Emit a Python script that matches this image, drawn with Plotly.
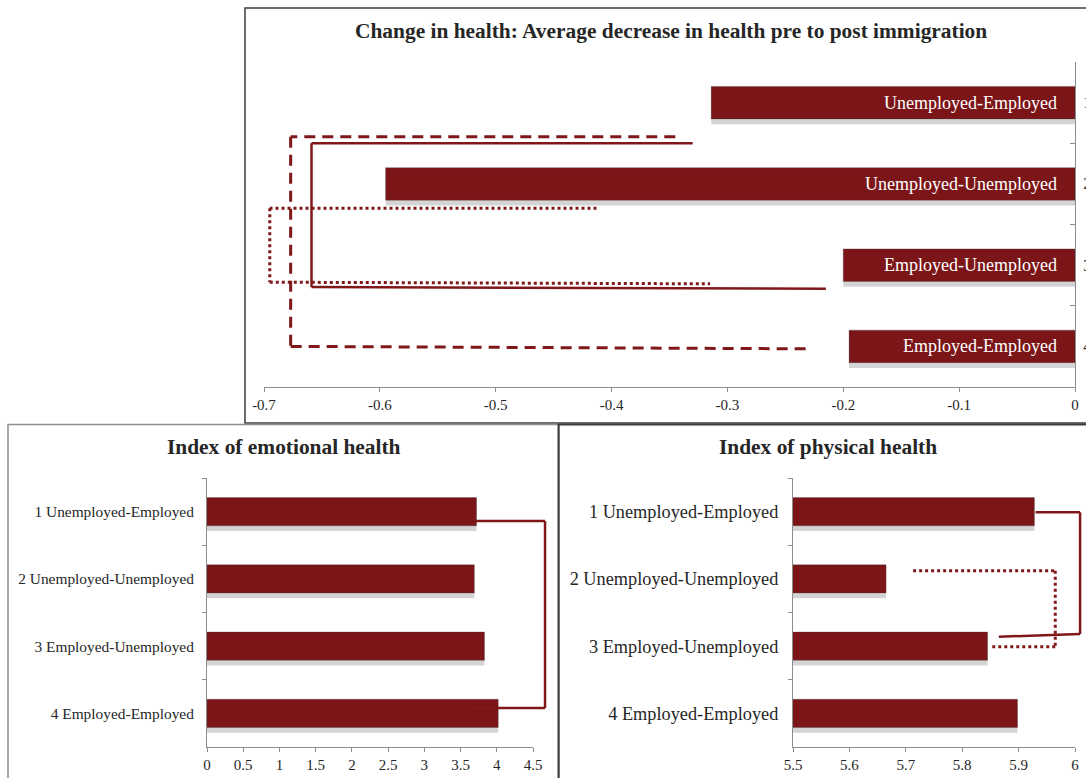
import plotly.graph_objects as go

W, H = 1086, 778

# ---------------- data ----------------
change_labels = ["Unemployed-Employed", "Unemployed-Unemployed", "Employed-Unemployed", "Employed-Employed"]
change_values = [-0.314, -0.595, -0.200, -0.195]
group_numbers = ["1", "2", "3", "4"]
change_ticks = [-0.7, -0.6, -0.5, -0.4, -0.3, -0.2, -0.1, 0]
change_ticktext = ["-0.7", "-0.6", "-0.5", "-0.4", "-0.3", "-0.2", "-0.1", "0"]

index_labels = ["1 Unemployed-Employed", "2 Unemployed-Unemployed", "3 Employed-Unemployed", "4 Employed-Employed"]
emotional_values = [3.72, 3.69, 3.83, 4.02]
physical_values = [5.928, 5.665, 5.845, 5.898]

# significance brackets: (x, category-index) vertices, dash style
change_brackets = [
    ([(-0.345, 0.42), (-0.677, 0.42), (-0.677, 3.00), (-0.232, 3.03)], "dash"),
    ([(-0.330, 0.50), (-0.659, 0.50), (-0.659, 2.27), (-0.215, 2.29)], "solid"),
    ([(-0.413, 1.30), (-0.695, 1.30), (-0.695, 2.21), (-0.315, 2.23)], "dot"),
]
emotional_brackets = [
    ([(3.70, 0.14), (4.666, 0.14), (4.666, 2.92), (3.64, 2.92)], "solid"),
]
physical_brackets = [
    ([(5.93, 0.01), (6.009, 0.01), (6.009, 1.82), (5.865, 1.86)], "solid"),
    ([(5.713, 0.88), (5.965, 0.88), (5.965, 2.01), (5.851, 2.01)], "dot"),
]

BAR = "#7C1518"
SHADOW = "rgba(0,0,0,0.17)"
LINE = "#801719"
FONT = "Liberation Serif"
TXT = "#262626"
AX = "#8c8c8c"

# pixel layout of the three plot areas
TOP_X = (264, 1075); TOP_Y = (62, 387)
EMO_X = (207, 533); BOT_Y = (478, 747)
PHY_X = (793, 1075)

def px(x): return x / W
def py(y): return 1 - y / H

fig = go.Figure()

def add_bars(cats, vals, w, shift, xa, ya):
    # soft drop shadow (same data, drawn slightly lower) then the bar itself
    fig.add_trace(go.Bar(y=cats, x=vals, orientation="h", width=w + shift, offset=-w / 2 + shift * 0.3,
                         marker=dict(color=SHADOW, line=dict(width=0)), xaxis=xa, yaxis=ya,
                         hoverinfo="skip"))
    fig.add_trace(go.Bar(y=cats, x=vals, orientation="h", width=w, offset=-w / 2,
                         marker=dict(color=BAR, line=dict(color="rgba(60,60,60,0.3)", width=1)),
                         xaxis=xa, yaxis=ya))

add_bars(change_labels, change_values, 0.4, 0.05, "x", "y")
add_bars(index_labels, emotional_values, 0.42, 0.06, "x2", "y2")
add_bars(index_labels, physical_values, 0.42, 0.06, "x3", "y3")

tickfont = dict(family=FONT, size=15, color=TXT)

fig.update_layout(
    width=W, height=H, margin=dict(l=0, r=0, t=0, b=0, autoexpand=False),
    paper_bgcolor="white", plot_bgcolor="white", showlegend=False, barmode="overlay",
    font=dict(family=FONT, color=TXT),
    xaxis=dict(domain=[px(TOP_X[0]), px(TOP_X[1])], anchor="y", range=[-0.7, 0],
               tickmode="array", tickvals=change_ticks, ticktext=change_ticktext,
               showgrid=False, zeroline=False, showline=True, linecolor=AX,
               ticks="outside", ticklen=4, tickcolor=AX, tickfont=tickfont),
    yaxis=dict(domain=[py(TOP_Y[1]), py(TOP_Y[0])], anchor="x", type="category",
               range=[3.5, -0.5], side="right", showline=True, linecolor=AX, showgrid=False,
               ticks="inside", tickson="boundaries", ticklen=5, tickcolor=AX,
               tickmode="array", tickvals=change_labels, ticktext=group_numbers,
               ticklabelstandoff=4, automargin=False,
               tickfont=dict(family=FONT, size=16, color=TXT)),
    xaxis2=dict(domain=[px(EMO_X[0]), px(EMO_X[1])], anchor="y2", range=[0, 4.5], dtick=0.5,
                showgrid=False, zeroline=False, showline=True, linecolor=AX,
                ticks="outside", ticklen=4, tickcolor=AX, tickfont=tickfont),
    yaxis2=dict(domain=[py(BOT_Y[1]), py(BOT_Y[0])], anchor="x2", type="category",
                range=[3.5, -0.5], showline=True, linecolor=AX, showgrid=False,
                ticks="outside", tickson="boundaries", ticklen=4, tickcolor=AX,
                ticklabelstandoff=9, tickfont=dict(family=FONT, size=15.4, color=TXT)),
    xaxis3=dict(domain=[px(PHY_X[0]), px(PHY_X[1])], anchor="y3", range=[5.5, 6], dtick=0.1,
                showgrid=False, zeroline=False, showline=True, linecolor=AX,
                ticks="outside", ticklen=4, tickcolor=AX, tickfont=tickfont),
    yaxis3=dict(domain=[py(BOT_Y[1]), py(BOT_Y[0])], anchor="x3", type="category",
                range=[3.5, -0.5], showline=True, linecolor=AX, showgrid=False,
                ticks="outside", tickson="boundaries", ticklen=4, tickcolor=AX,
                ticklabelstandoff=10, tickfont=dict(family=FONT, size=18.3, color=TXT)),
)

# panel frames
fig.add_shape(type="rect", xref="paper", yref="paper", x0=px(245), x1=px(1095), y0=py(423), y1=py(8),
              line=dict(color="#3c3c3c", width=1.5))
fig.add_shape(type="rect", xref="paper", yref="paper", x0=px(8), x1=px(559), y0=py(795), y1=py(424.5),
              line=dict(color="#8f8f8f", width=1.5))
fig.add_shape(type="rect", xref="paper", yref="paper", x0=px(558.5), x1=px(1095), y0=py(795), y1=py(424.5),
              line=dict(color="#3c3c3c", width=2))

# titles
title_font = dict(family=FONT, size=21.4, color=TXT)
for txt, cx, cy in [("Change in health: Average decrease in health pre to post immigration", 671, 31),
                    ("Index of emotional health", 284, 447),
                    ("Index of physical health", 828, 447)]:
    fig.add_annotation(text="<b>" + txt + "</b>", xref="paper", yref="paper", x=px(cx), y=py(cy),
                       xanchor="center", yanchor="middle", showarrow=False, font=title_font)

# labels inside top bars
for lab in change_labels:
    fig.add_annotation(text=lab, x=0, y=lab, xref="x", yref="y", xanchor="right", yanchor="middle",
                       xshift=-16, showarrow=False, font=dict(family=FONT, size=18, color="white"))

DASH = {"solid": "solid", "dash": "11px,7px", "dot": "3px,3px"}
WID = {"solid": 2.5, "dash": 3, "dot": 3}

def add_bracket_data(points, style, xref, yref):
    for (x0, y0), (x1, y1) in zip(points[:-1], points[1:]):
        fig.add_shape(type="line", xref=xref, yref=yref, x0=x0, y0=y0, x1=x1, y1=y1,
                      line=dict(color=LINE, width=WID[style], dash=DASH[style]))

def to_paper(v, idx, xpx_rng, xrng):
    xp = xpx_rng[0] + (v - xrng[0]) / (xrng[1] - xrng[0]) * (xpx_rng[1] - xpx_rng[0])
    yp = BOT_Y[0] + (idx + 0.5) / 4 * (BOT_Y[1] - BOT_Y[0])
    return px(xp), py(yp)

def add_bracket_paper(points, style, xpx_rng, xrng):
    pts = [to_paper(v, i, xpx_rng, xrng) for v, i in points]
    for (x0, y0), (x1, y1) in zip(pts[:-1], pts[1:]):
        fig.add_shape(type="line", xref="paper", yref="paper", x0=x0, y0=y0, x1=x1, y1=y1,
                      line=dict(color=LINE, width=WID[style], dash=DASH[style]))

for pts, st in change_brackets:
    add_bracket_data(pts, st, "x", "y")
for pts, st in emotional_brackets:
    add_bracket_paper(pts, st, EMO_X, (0, 4.5))
for pts, st in physical_brackets:
    add_bracket_paper(pts, st, PHY_X, (5.5, 6))

fig.write_html("out.html")
